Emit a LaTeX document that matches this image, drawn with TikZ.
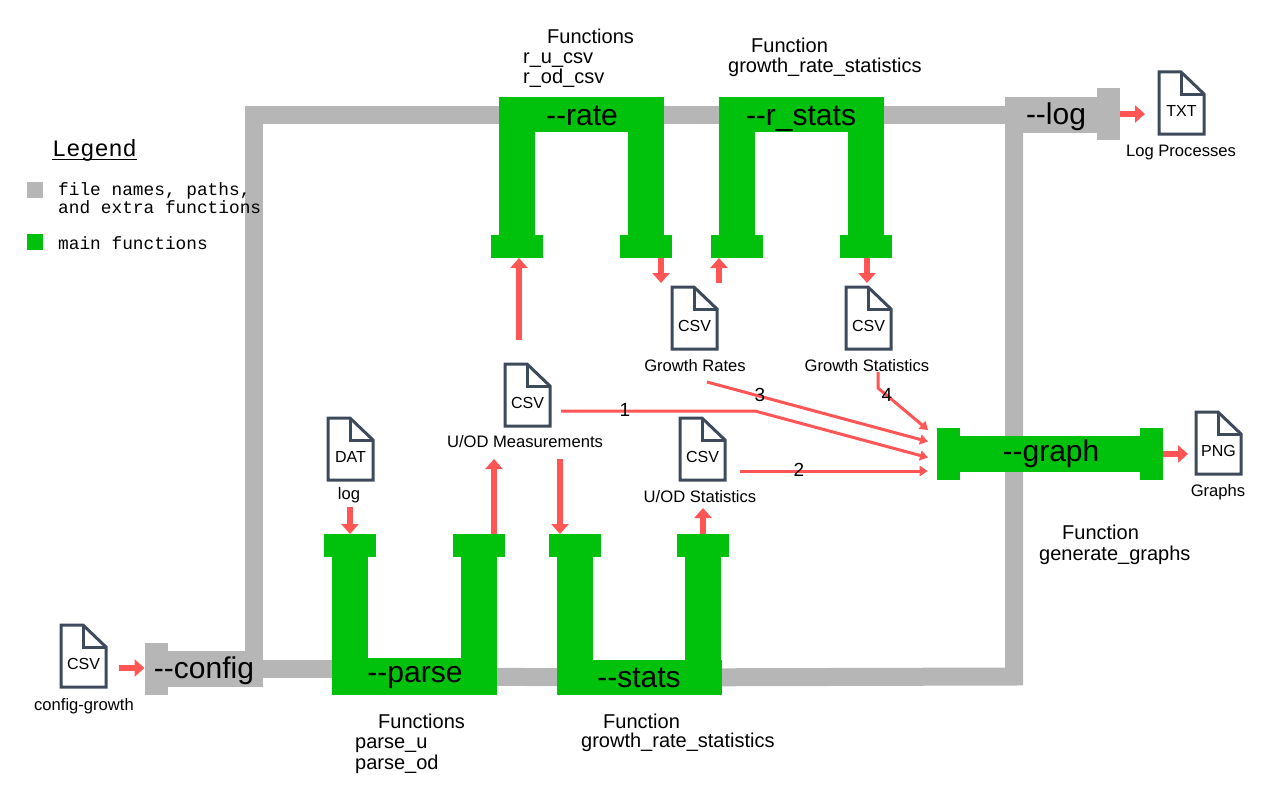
\documentclass[tikz,border=0pt]{standalone}
\usepackage{fontspec}
\setmainfont{Liberation Sans}
\newfontfamily\legendfont{Liberation Mono}
\usetikzlibrary{arrows.meta, backgrounds}

\definecolor{opgreen}{RGB}{0,194,12}
\definecolor{pipegray}{RGB}{182,182,182}
\definecolor{flowred}{RGB}{255,85,85}
\definecolor{docslate}{RGB}{61,74,92}

\tikzset{
	box/.style={draw=none, inner sep=0pt, outer sep=0pt, rectangle},
	greenbar/.style={box, fill=opgreen, minimum width=165pt, minimum height=35pt},
	greenfoot/.style={box, fill=opgreen, minimum width=52pt, minimum height=23pt},
	greencap/.style={box, fill=opgreen, minimum width=23pt, minimum height=52pt},
	graycap/.style={box, fill=pipegray, minimum width=23pt, minimum height=52pt},
	graybox/.style={box, fill=pipegray, minimum height=36pt},
	greenleg/.style={draw=opgreen, line width=36pt},
	pipe/.style={draw=pipegray, line width=18pt},
	optext/.style={inner sep=0pt, anchor=base, font=\fontsize{30}{30}\selectfont},
	doctext/.style={inner sep=0pt, font=\fontsize{16}{16}\selectfont},
	filelabel/.style={inner sep=0pt, anchor=base, font=\fontsize{16.6}{16.6}\selectfont},
	functext/.style={inner sep=0pt, anchor=base west, font=\fontsize{20}{20}\selectfont},
	numtext/.style={inner sep=0pt, font=\fontsize{19}{19}\selectfont},
	legendtext/.style={inner sep=0pt, anchor=base west, font=\legendfont\fontsize{17.8}{17.8}\selectfont},
	flow/.style={draw=flowred, line width=6pt, -{Triangle[length=10pt,width=17pt]}},
	feed/.style={draw=flowred, line width=3pt, line join=round, shorten >=9.3pt, -{Triangle[length=8pt,width=10pt]}},
}

% name, left, top, text
\newcommand{\docicon}[4]{
	\draw[docslate, line width=3pt, fill=white, line join=miter]
		(#2,#3) -- (#2+22,#3) -- (#2+45,#3+22) -- (#2+45,#3+62) -- (#2,#3+62) -- cycle;
	\draw[docslate, line width=3pt] (#2+22,#3) -- (#2+22,#3+22) -- (#2+45,#3+22);
	\node[doctext] (#1) at (#2+22.5,#3+39) {#4};
}

\begin{document}
\begin{tikzpicture}[x=1pt, y=-1pt]
	\useasboundingbox (0,0) rectangle (1280,800);

	% top functions
	\node[greenbar] (ratebar) at (581.5,114.5) {};
	\node[greenfoot] (ratefootl) at (517,246.5) {};
	\node[greenfoot] (ratefootr) at (646,246.5) {};
	\node[greenbar] (rstatsbar) at (801.5,114.5) {};
	\node[greenfoot] (rstatsfootl) at (737,246.5) {};
	\node[greenfoot] (rstatsfootr) at (866,246.5) {};

	% bottom functions
	\node[greenbar, minimum height=37pt] (parsebar) at (414.5,676.5) {};
	\node[greenfoot] (parsefootl) at (350,545.5) {};
	\node[greenfoot] (parsefootr) at (479,545.5) {};
	\node[greenbar] (statsbar) at (639.5,677.5) {};
	\node[greenfoot] (statsfootl) at (575,545.5) {};
	\node[greenfoot] (statsfootr) at (703,545.5) {};

	% graph
	\node[box, fill=opgreen, minimum width=181pt, minimum height=36pt] (graphbar) at (1050,454) {};
	\node[greencap] (graphcapl) at (948.5,454) {};
	\node[greencap] (graphcapr) at (1151.5,454) {};

	% config and log
	\node[graybox, minimum width=96pt] (configbox) at (215,669) {};
	\node[graycap] (configcap) at (156,669) {};
	\node[graybox, minimum width=92pt] (logbox) at (1051,114.5) {};
	\node[graycap] (logcap) at (1108.5,114) {};

	\coordinate (configup) at (254,655);
	\coordinate (topleft) at (254,114.5);
	\coordinate (bottomright) at (1014,676.5);
	\coordinate (logdown) at (1014,125);

	\begin{scope}[on background layer]
		\draw[pipe] (configup) -- (topleft) -- (ratebar);
		\draw[pipe] (ratebar) -- (rstatsbar);
		\draw[pipe] (rstatsbar) -- (logbox);
		\draw[pipe] (configbox) -- (configbox -| parsebar);
		\draw[pipe] (parsebar) -- (statsbar);
		\draw[pipe] (statsbar) -- (bottomright) -- (logdown);
	\end{scope}

	\draw[greenleg] (ratefootl) -- (ratefootl |- ratebar);
	\draw[greenleg] (ratefootr) -- (ratefootr |- ratebar);
	\draw[greenleg] (rstatsfootl) -- (rstatsfootl |- rstatsbar);
	\draw[greenleg] (rstatsfootr) -- (rstatsfootr |- rstatsbar);
	\draw[greenleg] (parsefootl) -- (parsefootl |- parsebar);
	\draw[greenleg] (parsefootr) -- (parsefootr |- parsebar);
	\draw[greenleg] (statsfootl) -- (statsfootl |- statsbar);
	\draw[greenleg] (statsfootr) -- (statsfootr |- statsbar);

	\node[optext] (ratetext) at (582,125) {-{}-rate};
	\node[optext] (rstatstext) at (801,125) {-{}-r\_stats};
	\node[optext] (parsetext) at (415,682) {-{}-parse};
	\node[optext] (statstext) at (639,687) {-{}-stats};
	\node[optext] (graphtext) at (1051,461) {-{}-graph};
	\node[optext] (configtext) at (204,678) {-{}-config};
	\node[optext] (logtext) at (1056,124) {-{}-log};

	% files
	\docicon{configdoc}{61}{625}{CSV}
	\docicon{logdoc}{1159}{72}{TXT}
	\docicon{ratesdoc}{672}{287}{CSV}
	\docicon{growthdoc}{846}{287}{CSV}
	\docicon{measdoc}{505}{364}{CSV}
	\docicon{statsdoc}{680}{418}{CSV}
	\docicon{datdoc}{328}{418}{DAT}
	\docicon{pngdoc}{1196}{412}{PNG}

	\node[filelabel] (configlabel) at (84,710) {config-growth};
	\node[filelabel] (loglabel) at (1181,156) {Log Processes};
	\node[filelabel] (rateslabel) at (695,371) {Growth Rates};
	\node[filelabel] (growthlabel) at (867,371) {Growth Statistics};
	\node[filelabel] (measlabel) at (525,447) {U/OD Measurements};
	\node[filelabel] (statslabel) at (700,502) {U/OD Statistics};
	\node[filelabel] (datlabel) at (349,499) {log};
	\node[filelabel] (pnglabel) at (1218,496) {Graphs};

	% function names
	\node[functext] (ratefuncs) at (547,44) {Functions};
	\node[functext] (rateu) at (523,64) {r\_u\_csv};
	\node[functext] (rateod) at (523,84) {r\_od\_csv};
	\node[functext] (rstatsfunc) at (751,53) {Function};
	\node[functext] (rstatsname) at (728,73) {growth\_rate\_statistics};
	\node[functext] (parsefuncs) at (378,728) {Functions};
	\node[functext] (parseu) at (355,748) {parse\_u};
	\node[functext] (parseod) at (355,769) {parse\_od};
	\node[functext] (statsfunc) at (603,728) {Function};
	\node[functext] (statsname) at (581,747) {growth\_rate\_statistics};
	\node[functext] (graphfunc) at (1062,539) {Function};
	\node[functext] (graphname) at (1039,560) {generate\_graphs};

	% thick arrows
	\coordinate (configout) at (119,668);
	\coordinate (login) at (1145,114);
	\coordinate (pngin) at (1188,454);
	\coordinate (datout) at (350,507);
	\coordinate (parseout) at (494,459);
	\coordinate (statsin) at (560,459);
	\coordinate (statsout) at (703,508);
	\coordinate (ratein) at (519,340);
	\coordinate (rateout) at (661,283);
	\coordinate (rstatsin) at (719,283);
	\coordinate (rstatsout) at (867,283);

	\draw[flow] (configout) -- (configcap.west |- configout);
	\draw[flow] (logcap.east |- login) -- (login);
	\draw[flow] (graphcapr.east |- pngin) -- (pngin);
	\draw[flow] (datout) -- (datout |- parsefootl.north);
	\draw[flow] (parseout |- parsefootr.north) -- (parseout);
	\draw[flow] (statsin) -- (statsin |- statsfootl.north);
	\draw[flow] (statsout |- statsfootr.north) -- (statsout);
	\draw[flow] (ratein) -- (ratein |- ratefootl.south);
	\draw[flow] (rateout |- ratefootr.south) -- (rateout);
	\draw[flow] (rstatsin) -- (rstatsin |- rstatsfootl.south);
	\draw[flow] (rstatsout |- rstatsfootr.south) -- (rstatsout);

	% inputs of graph
	\coordinate (measfeed) at (561,411);
	\coordinate (measbend) at (755,411);
	\coordinate (statsfeed) at (740,471);
	\coordinate (ratesfeed) at (707,382);
	\coordinate (growthfeed) at (878,372);
	\coordinate (growthbend) at (878,388);

	\draw[feed] (measfeed) -- (measbend) -- ([yshift=-6pt]graphcapl.west);
	\draw[feed] (statsfeed) -- ([yshift=-17pt]graphcapl.west);
	\draw[feed] (ratesfeed) -- ([yshift=10pt]graphcapl.west);
	\draw[feed, shorten >=11.7pt] (growthfeed) -- (growthbend) -- ([yshift=16.5pt]graphcapl.west);

	\node[numtext] (numone) at (625,410) {1};
	\node[numtext] (numtwo) at (799,470) {2};
	\node[numtext] (numthree) at (760,395) {3};
	\node[numtext] (numfour) at (887,395) {4};

	% legend
	\node[legendtext, font=\legendfont\fontsize{23.5}{23.5}\selectfont] (legendtitle) at (52,156) {Legend};
	\draw[line width=1.2pt] ([yshift=-3.5pt]legendtitle.base west) -- ([yshift=-3.5pt]legendtitle.base east);
	\node[box, fill=pipegray, minimum size=16pt] (legendgray) at (35,190) {};
	\node[box, fill=opgreen, minimum size=16pt] (legendgreen) at (35,242) {};
	\node[legendtext] (legendfile) at (58,195) {file names, paths,};
	\node[legendtext] (legendextra) at (58,213) {and extra functions};
	\node[legendtext] (legendmain) at (58,249) {main functions};
\end{tikzpicture}
\end{document}
